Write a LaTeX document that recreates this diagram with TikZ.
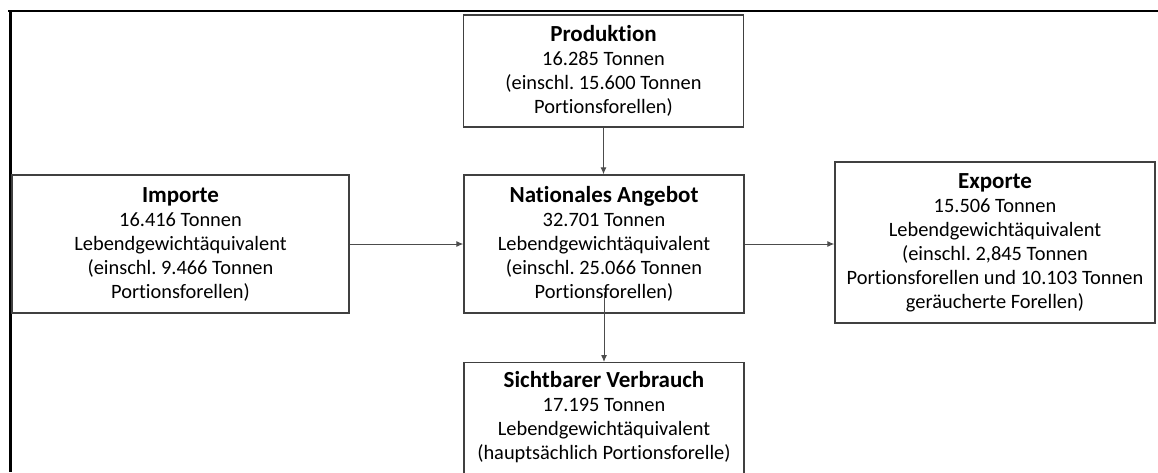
\documentclass[tikz,border=0pt]{standalone}
\usepackage{fontspec}
\setmainfont[Ligatures=NoCommon]{Carlito}
\usetikzlibrary{arrows.meta}
\frenchspacing

\newcommand{\boxtitle}[1]{{\fontsize{11.5}{12}\selectfont\textbf{#1}}}

\begin{document}
\begin{tikzpicture}[x=0.5pt,y=-0.5pt,
  box/.style={draw=black!75, line width=0.7pt, align=center,
    font=\fontsize{10.2}{12}\selectfont, inner sep=0pt},
  flow/.style={-{Latex[length=3.5pt,width=3pt]}, black!70, line width=0.5pt}]
\useasboundingbox (0,0) rectangle (1158,472);
\clip (0,0) rectangle (1158,472);

% frame
\draw[line width=1pt] (8,11) -- (1158,11);
\draw[line width=1.5pt] (10,10.5) -- (10,472);

% boxes
\node[box, minimum width=140pt, minimum height=56pt] (prod) at (603.5,71)
  {\boxtitle{Produktion}\\16.285 Tonnen\\(einschl. 15.600 Tonnen\\Portionsforellen)};
\node[box, minimum width=168.5pt, minimum height=69pt] (imp) at (180.5,244)
  {\boxtitle{Importe}\\16.416 Tonnen\\Lebendgewichtäquivalent\\(einschl. 9.466 Tonnen\\Portionsforellen)};
\node[box, minimum width=140pt, minimum height=69pt] (ang) at (604,244)
  {\boxtitle{Nationales Angebot}\\32.701 Tonnen\\Lebendgewichtäquivalent\\(einschl. 25.066 Tonnen\\Portionsforellen)};
\node[box, minimum width=160pt, minimum height=80.5pt] (exp) at (995,242.5)
  {\boxtitle{Exporte}\\15.506 Tonnen\\Lebendgewichtäquivalent\\(einschl. 2,845 Tonnen\\Portionsforellen und 10.103 Tonnen\\geräucherte Forellen)};
\node[box, minimum width=140pt, anchor=north, inner ysep=4.5pt, text depth=60pt] (verb) at (604,362)
  {\boxtitle{Sichtbarer Verbrauch}\\17.195 Tonnen\\Lebendgewichtäquivalent\\(hauptsächlich Portionsforelle)};

% arrows
\draw[flow] (prod.south) -- (prod.south |- ang.north);
\draw[flow] (imp.east) -- (ang.west);
\draw[flow] (ang.east) -- (exp.west |- ang.east);
\draw[flow] ([yshift=11pt]ang.south) -- (verb.north);
\end{tikzpicture}
\end{document}
